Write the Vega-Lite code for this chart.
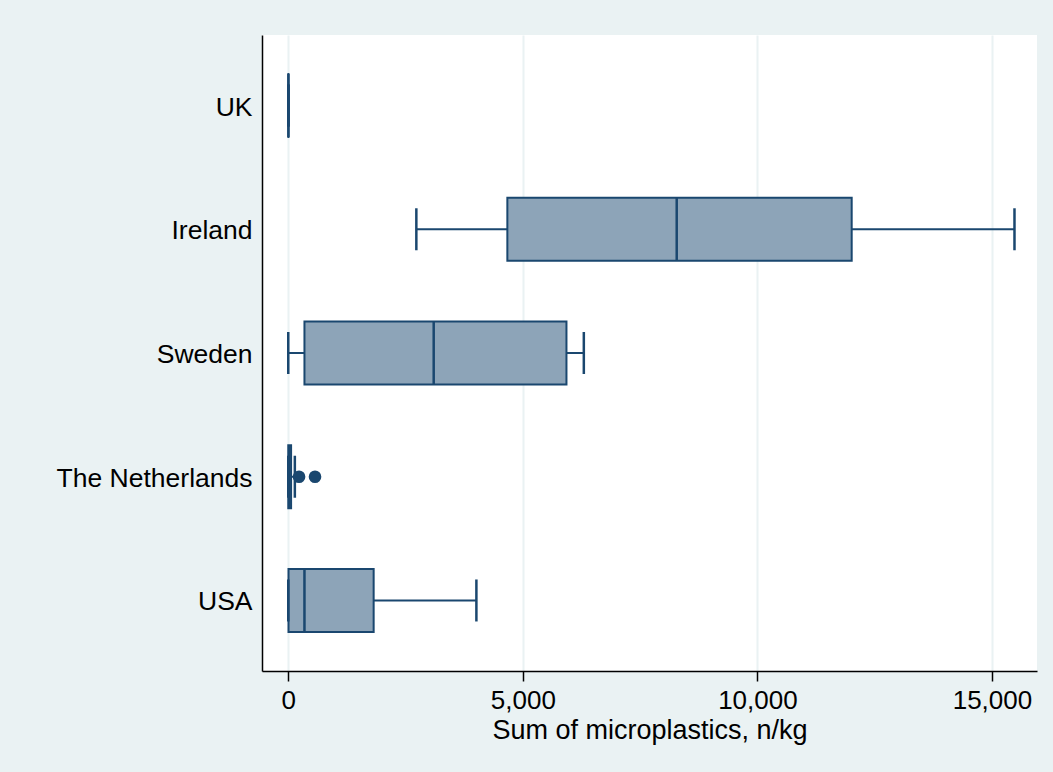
{
  "$schema": "https://vega.github.io/schema/vega-lite/v6.json",
  "autosize": {"type": "none"},
  "padding": {"left": 262, "top": 35, "right": 16, "bottom": 101},
  "width": 775,
  "height": 636,
  "background": "#EAF2F3",
  "config": {
    "view": {"fill": "white", "stroke": null},
    "font": "Liberation Sans",
    "axis": {"labelFont": "Liberation Sans", "titleFont": "Liberation Sans", "labelColor": "#000000", "titleColor": "#000000"}
  },
  "datasets": {
    "stats": [
      {"country": "UK", "lo": 2, "q1": 2, "med": 3, "q3": 4, "hi": 5},
      {"country": "Ireland", "lo": 2730, "q1": 4670, "med": 8280, "q3": 12010, "hi": 15480},
      {"country": "Sweden", "lo": 0, "q1": 345, "med": 3100, "q3": 5930, "hi": 6300},
      {"country": "The Netherlands", "lo": 0, "q1": 0, "med": 20, "q3": 60, "hi": 140},
      {"country": "USA", "lo": 0, "q1": 5, "med": 345, "q3": 1820, "hi": 4010}
    ],
    "outliers": [
      {"country": "The Netherlands", "value": 230},
      {"country": "The Netherlands", "value": 570}
    ]
  },
  "encoding": {
    "y": {
      "field": "country", "type": "nominal",
      "sort": ["UK", "Ireland", "Sweden", "The Netherlands", "USA"],
      "scale": {"paddingInner": 0, "paddingOuter": 0.07},
      "axis": {"title": null, "ticks": false, "labelFontSize": 26.5, "labelLimit": 0, "labelPadding": 10, "labelOffset": 2, "domainColor": "#000000", "domainWidth": 1.5, "grid": false}
    }
  },
  "layer": [
    {
      "data": {"name": "stats"},
      "mark": {"type": "rule", "color": "#1A476F", "strokeWidth": 2},
      "encoding": {
        "x": {
          "field": "lo", "type": "quantitative",
          "scale": {"domain": [-560, 15960], "nice": false, "zero": false},
          "axis": {
            "title": "Sum of microplastics, n/kg", "titleFontSize": 27, "titleFontWeight": "normal", "titlePadding": 4,
            "values": [0, 5000, 10000, 15000], "format": ",d",
            "labelFontSize": 26, "labelPadding": 6, "tickSize": 10, "tickColor": "#000000", "tickWidth": 1.5,
            "domainColor": "#000000", "domainWidth": 1.5,
            "grid": true, "gridColor": "#EAF2F3", "gridWidth": 2
          }
        },
        "x2": {"field": "hi"}
      }
    },
    {
      "data": {"name": "stats"},
      "mark": {"type": "bar", "size": 63, "fill": "#8DA4B8", "stroke": "#1A476F", "strokeWidth": 2},
      "encoding": {"x": {"field": "q1", "type": "quantitative"}, "x2": {"field": "q3"}}
    },
    {
      "data": {"name": "stats"},
      "mark": {"type": "tick", "size": 63, "thickness": 2.5, "color": "#1A476F", "opacity": 1},
      "encoding": {"x": {"field": "med", "type": "quantitative"}}
    },
    {
      "data": {"name": "stats"},
      "mark": {"type": "tick", "size": 42, "thickness": 2.5, "color": "#1A476F", "opacity": 1},
      "encoding": {"x": {"field": "lo", "type": "quantitative"}}
    },
    {
      "data": {"name": "stats"},
      "mark": {"type": "tick", "size": 42, "thickness": 2.5, "color": "#1A476F", "opacity": 1},
      "encoding": {"x": {"field": "hi", "type": "quantitative"}}
    },
    {
      "data": {"name": "outliers"},
      "mark": {"type": "point", "filled": true, "size": 160, "color": "#1A476F", "opacity": 1},
      "encoding": {"x": {"field": "value", "type": "quantitative"}}
    }
  ]
}
